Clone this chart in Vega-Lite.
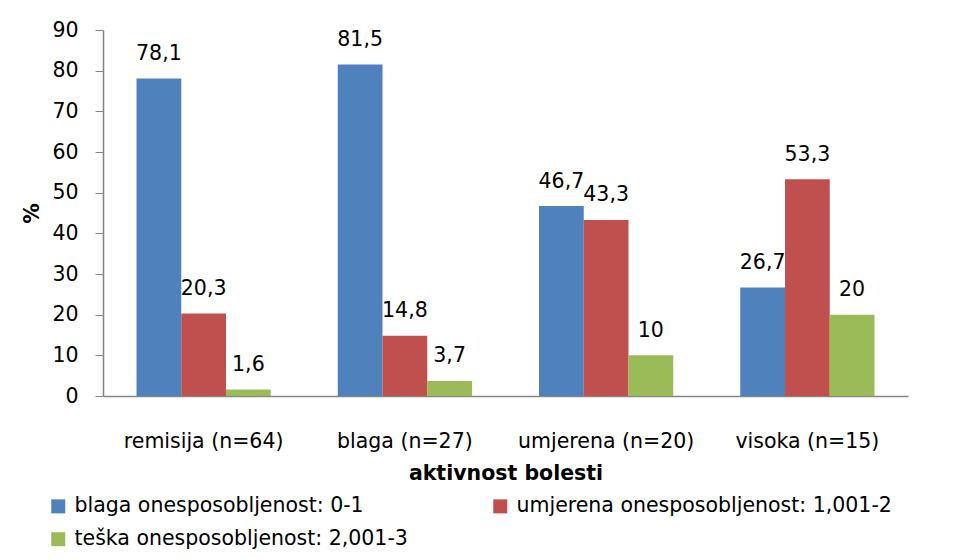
{
  "$schema": "https://vega.github.io/schema/vega-lite/v6.json",
  "autosize": "none",
  "width": 805,
  "height": 366,
  "padding": {"left": 103, "top": 30, "right": 48, "bottom": 164},
  "background": "white",
  "config": {
    "font": "DejaVu Sans",
    "view": {"stroke": null},
    "locale": {"number": {"decimal": ",", "thousands": ".", "grouping": [3], "currency": ["", ""]}},
    "axis": {"domainColor": "#868686", "tickColor": "#868686", "labelColor": "#000000", "titleColor": "#000000", "grid": false, "labelFont": "DejaVu Sans", "titleFont": "DejaVu Sans"}
  },
  "data": {
    "values": [
      {"aktivnost": "remisija (n=64)", "grupa": "blaga onesposobljenost: 0-1", "postotak": 78.1},
      {"aktivnost": "remisija (n=64)", "grupa": "umjerena onesposobljenost: 1,001-2", "postotak": 20.3},
      {"aktivnost": "remisija (n=64)", "grupa": "teška onesposobljenost: 2,001-3", "postotak": 1.6},
      {"aktivnost": "blaga (n=27)", "grupa": "blaga onesposobljenost: 0-1", "postotak": 81.5},
      {"aktivnost": "blaga (n=27)", "grupa": "umjerena onesposobljenost: 1,001-2", "postotak": 14.8},
      {"aktivnost": "blaga (n=27)", "grupa": "teška onesposobljenost: 2,001-3", "postotak": 3.7},
      {"aktivnost": "umjerena (n=20)", "grupa": "blaga onesposobljenost: 0-1", "postotak": 46.7},
      {"aktivnost": "umjerena (n=20)", "grupa": "umjerena onesposobljenost: 1,001-2", "postotak": 43.3},
      {"aktivnost": "umjerena (n=20)", "grupa": "teška onesposobljenost: 2,001-3", "postotak": 10},
      {"aktivnost": "visoka (n=15)", "grupa": "blaga onesposobljenost: 0-1", "postotak": 26.7},
      {"aktivnost": "visoka (n=15)", "grupa": "umjerena onesposobljenost: 1,001-2", "postotak": 53.3},
      {"aktivnost": "visoka (n=15)", "grupa": "teška onesposobljenost: 2,001-3", "postotak": 20}
    ]
  },
  "encoding": {
    "x": {
      "field": "aktivnost", "type": "nominal", "sort": null,
      "scale": {"paddingInner": 0.333, "paddingOuter": 0.1665},
      "axis": {"title": "aktivnost bolesti", "labelAngle": 0, "ticks": false, "labelFontSize": 20.5, "labelPadding": 35, "titleFontSize": 20.5, "titleFontWeight": "bold", "titlePadding": 12, "domainWidth": 1.5}
    },
    "xOffset": {"field": "grupa", "type": "nominal", "sort": ["blaga onesposobljenost: 0-1", "umjerena onesposobljenost: 1,001-2", "teška onesposobljenost: 2,001-3"]},
    "y": {
      "field": "postotak", "type": "quantitative",
      "scale": {"domain": [0, 90], "nice": false},
      "axis": {"title": "%", "values": [0,10,20,30,40,50,60,70,80,90], "tickSize": 8, "labelFontSize": 20.5, "labelPadding": 17, "titleFontSize": 20.5, "titleFontWeight": "bold", "titlePadding": 9, "domainWidth": 1.5}
    }
  },
  "layer": [
    {
      "mark": {"type": "bar"},
      "encoding": {
        "color": {
          "field": "grupa", "type": "nominal",
          "sort": ["blaga onesposobljenost: 0-1", "umjerena onesposobljenost: 1,001-2", "teška onesposobljenost: 2,001-3"],
          "scale": {"domain": ["blaga onesposobljenost: 0-1", "umjerena onesposobljenost: 1,001-2", "teška onesposobljenost: 2,001-3"], "range": ["#4F81BD", "#C0504D", "#9BBB59"]},
          "legend": {
            "title": null, "orient": "none", "legendX": -55, "legendY": 466,
            "direction": "horizontal", "columns": 2, "columnPadding": 82, "rowPadding": 12,
            "symbolType": "square", "symbolSize": 196, "symbolStrokeWidth": 0, "symbolOffset": 0,
            "labelFontSize": 20.5, "labelFont": "DejaVu Sans", "labelColor": "#000000", "labelOffset": 6, "labelLimit": 500
          }
        }
      }
    },
    {
      "mark": {"type": "text", "baseline": "bottom", "dy": -14.5, "fontSize": 20.5, "font": "DejaVu Sans", "color": "#000000"},
      "encoding": {
        "text": {"field": "postotak", "type": "quantitative", "format": "~g"}
      }
    }
  ]
}
